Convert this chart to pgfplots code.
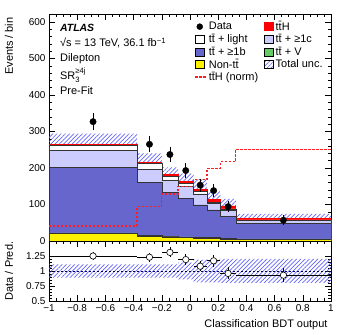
\documentclass[border=0pt]{standalone}
\usepackage{fontspec}
\setmainfont{Liberation Sans}
\usepackage{amsmath}
\usepackage{pgfplots}
\pgfplotsset{compat=1.18}
\usepgfplotslibrary{fillbetween}
\usetikzlibrary{patterns.meta}

\definecolor{ttb}{RGB}{102,102,204}
\definecolor{ttc}{RGB}{204,204,255}
\definecolor{ttv}{RGB}{102,204,102}
\definecolor{hatch}{RGB}{100,100,250}
\definecolor{sigred}{RGB}{255,30,30}

\newcommand{\ttbar}{t\={t}}

\pgfplotsset{
  boxleg/.style={legend image code/.code={\draw[##1,line width=0.5bp] (0bp,-4bp) rectangle (9bp,4bp);}},
  linleg/.style={legend image code/.code={\draw[##1] (0bp,0bp) -- (11bp,0bp);}},
  dotleg/.style={legend image code/.code={\fill[##1] (4.5bp,0bp) circle (3bp);}},
  hatchband/.style={draw=none, pattern={Lines[angle=45,distance=3bp,line width=0.7bp]}, pattern color=hatch},
  sigline/.style={draw=sigred, line width=1.3bp, dash pattern=on 2.4bp off 1.6bp},
  every axis/.append style={
    scale only axis, width=282bp,
    xmin=-1, xmax=1,
    xtick={-1,-0.8,-0.6,-0.4,-0.2,0,0.2,0.4,0.6,0.8,1},
    minor x tick num=3,
    tick align=inside, major tick length=6bp, minor tick length=3bp,
    every tick/.style={black, line width=0.6bp},
    axis line style={line width=0.7bp},
    tick label style={font=\fontsize{10}{12}\selectfont},
    label style={font=\fontsize{11}{13}\selectfont},
    /pgf/number format/assume math mode=true,
  },
}

\begin{document}
\begin{tikzpicture}
\begin{axis}[
  name=main, height=227bp,
  ymin=0, ymax=622, ytick={0,100,200,300,400,500,600}, minor y tick num=4,
  xticklabels={},
  ylabel={Events / bin},
  ylabel style={at={(axis description cs:-0.115,1)}, anchor=south east},
  legend columns=2,
  legend cell align=left,
  legend style={at={(rel axis cs:0.505,0.985)}, anchor=north west, draw=none, fill=none,
    font=\fontsize{11}{12}\selectfont, row sep=-1.5bp,
    /tikz/every even column/.append style={column sep=4bp}},
]
% legend entries
\addlegendimage{dotleg, black}
\addlegendentry{Data}
\addlegendimage{boxleg, fill=red, draw=red}
\addlegendentry{\ttbar H}
\addlegendimage{boxleg, fill=white, draw=black}
\addlegendentry{\ttbar{} + light}
\addlegendimage{boxleg, fill=ttc, draw=black}
\addlegendentry{\ttbar{} + ≥1c}
\addlegendimage{boxleg, fill=ttb, draw=black}
\addlegendentry{\ttbar{} + ≥1b}
\addlegendimage{boxleg, fill=ttv, draw=black}
\addlegendentry{\ttbar{} + V}
\addlegendimage{boxleg, fill=yellow, draw=black}
\addlegendentry{Non-\ttbar}
\addlegendimage{boxleg, hatchband}
\addlegendentry{Total unc.}
\addlegendimage{linleg, sigline}
\addlegendentry{\ttbar H (norm)}

% stacked prediction (cumulative tops), drawn from the top layer down
\addplot[forget plot, const plot, fill=red, draw=red, line width=0.8bp] coordinates {
  (-1,265) (-0.375,216) (-0.2,182) (-0.085,162) (0.025,142) (0.12,115) (0.215,96) (0.325,62) (1,62)} \closedcycle;
\addplot[forget plot, const plot, fill=white, draw=black!80, line width=0.6bp] coordinates {
  (-1,262) (-0.375,212) (-0.2,177) (-0.085,157) (0.025,135) (0.12,106) (0.215,88) (0.325,58) (1,58)} \closedcycle;
\addplot[forget plot, const plot, fill=ttc, draw=black!80, line width=0.6bp] coordinates {
  (-1,248) (-0.375,197) (-0.2,165) (-0.085,150) (0.025,129) (0.12,102) (0.215,84) (0.325,57) (1,57)} \closedcycle;
\addplot[forget plot, const plot, fill=ttb, draw=black!80, line width=0.6bp] coordinates {
  (-1,201) (-0.375,161) (-0.2,133) (-0.085,117) (0.025,99) (0.12,85) (0.215,67) (0.325,49) (1,49)} \closedcycle;
\addplot[forget plot, const plot, fill=ttv, draw=black!80, line width=0.6bp] coordinates {
  (-1,22) (-0.375,15) (-0.2,13) (-0.085,11) (0.025,10) (0.12,9) (0.215,7) (0.325,6) (1,6)} \closedcycle;
\addplot[forget plot, const plot, fill=yellow, draw=black!80, line width=0.6bp] coordinates {
  (-1,20) (-0.375,13) (-0.2,11) (-0.085,9) (0.025,8) (0.12,7) (0.215,5) (0.325,4) (1,4)} \closedcycle;

% total uncertainty band
\addplot[forget plot, const plot, draw=none, name path=up] coordinates {
  (-1,294.2) (-0.375,239.8) (-0.2,202.0) (-0.085,184.7) (0.025,169.0) (0.12,136.9) (0.215,115.2) (0.325,74.4) (1,74.4)};
\addplot[forget plot, const plot, draw=none, name path=dn] coordinates {
  (-1,235.9) (-0.375,192.2) (-0.2,162.0) (-0.085,139.3) (0.025,115.0) (0.12,93.2) (0.215,76.8) (0.325,49.6) (1,49.6)};
\addplot[forget plot, hatchband] fill between[of=up and dn];

% signal shape, normalised
\addplot[forget plot, const plot, sigline] coordinates {
  (-1,41) (-0.375,94) (-0.2,129) (-0.085,150) (0.025,168) (0.12,199) (0.215,217) (0.325,251) (1,251)};

% data
\addplot[forget plot, only marks, mark=*, mark size=3.2bp, black,
  error bars/.cd, y dir=both, y explicit,
  error bar style={line width=0.8bp}, error mark options={mark size=2bp, line width=0.8bp}]
  coordinates {
  (-0.6875,327) +- (0,18.1)
  (-0.2875,265) +- (0,16.3)
  (-0.1425,237) +- (0,15.4)
  (-0.03,193)   +- (0,13.9)
  (0.0725,153)  +- (0,12.4)
  (0.1675,138)  +- (0,11.7)
  (0.27,94)     +- (0,9.7)
  (0.6625,57)   +- (0,7.5)};

\node[anchor=west, font=\fontsize{10.5}{12}\selectfont\bfseries\itshape] at (rel axis cs:0.027,0.938) {ATLAS};
\node[anchor=west, font=\fontsize{11}{12}\selectfont] at (rel axis cs:0.027,0.872) {√s = 13 TeV, 36.1 fb\textsuperscript{−1}};
\node[anchor=west, font=\fontsize{11}{12}\selectfont] at (rel axis cs:0.027,0.802) {Dilepton};
\node[anchor=west, font=\fontsize{11}{12}\selectfont] at (rel axis cs:0.027,0.730) {SR$_{\text{3}}^{\text{≥4j}}$};
\node[anchor=west, font=\fontsize{11}{12}\selectfont] at (rel axis cs:0.027,0.661) {Pre-Fit};
\end{axis}

\begin{axis}[
  at={(main.south west)}, anchor=north west, height=60bp,
  ymin=0.5, ymax=1.5, ytick={0.5,0.75,1,1.25}, yticklabels={0.5,0.75,1,1.25},
  minor y tick num=4,
  xticklabels={−1,−0.8,−0.6,−0.4,−0.2,0,0.2,0.4,0.6,0.8,1},
  ylabel={Data / Pred.},
  ylabel style={at={(axis description cs:-0.115,0.5)}, anchor=south},
  xlabel={Classification BDT output},
  xlabel style={at={(rel axis cs:1,0)}, anchor=north east, yshift=-15bp},
]
\addplot[const plot, draw=none, name path=rup] coordinates {
  (-1,1.11) (-0.375,1.11) (-0.2,1.11) (-0.085,1.14) (0.025,1.19) (0.12,1.19) (0.215,1.20) (0.325,1.20) (1,1.20)};
\addplot[const plot, draw=none, name path=rdn] coordinates {
  (-1,0.89) (-0.375,0.89) (-0.2,0.89) (-0.085,0.86) (0.025,0.81) (0.12,0.81) (0.215,0.80) (0.325,0.80) (1,0.80)};
\addplot[hatchband] fill between[of=rup and rdn];
\addplot[black!70!blue, line width=0.6bp, dash pattern=on 2bp off 2bp] coordinates {(-1,1) (1,1)};
\addplot[only marks, mark=*, mark size=3.2bp, mark options={fill=white, draw=black, line width=0.6bp},
  error bars/.cd, x dir=both, x explicit, y dir=both, y explicit, error mark=none,
  error bar style={black, line width=0.8bp}]
  coordinates {
  (-0.6875,1.25) +- (0.3125,0.07)
  (-0.2875,1.23) +- (0.0875,0.075)
  (-0.1425,1.31) +- (0.0575,0.085)
  (-0.03,1.19)   +- (0.055,0.085)
  (0.0725,1.08)  +- (0.0475,0.087)
  (0.1675,1.17)  +- (0.0475,0.10)
  (0.27,0.96)    +- (0.055,0.10)
  (0.6625,0.93)  +- (0.3375,0.12)};
\end{axis}

\pgfresetboundingbox
\path[use as bounding box] ([shift={(-49bp,14bp)}]main.north west) rectangle ([shift={(300bp,-321bp)}]main.north west);
\end{tikzpicture}
\end{document}
